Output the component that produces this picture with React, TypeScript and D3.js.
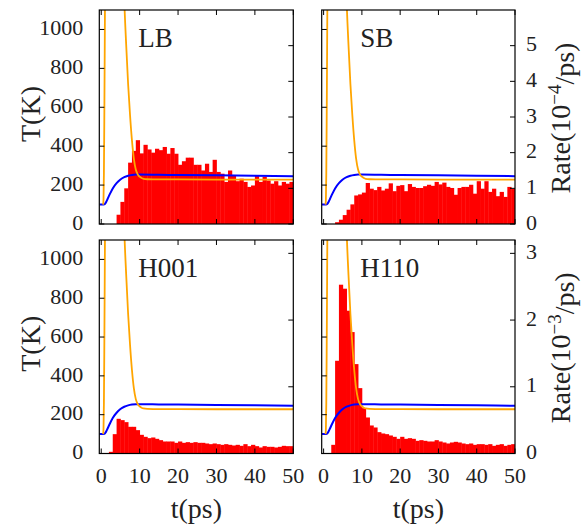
import React from 'react';
import * as d3 from 'd3';

// ---------- data ----------
const binStart = [0,1,2,3,4,5,6,7,8,9,10,11,12,13,14,15,16,17,18,19,20,21,22,23,24,25,26,27,28,29,30,31,32,33,34,35,36,37,38,39,40,41,42,43,44,45,46,47,48,49];
const binWidth = 1;

// rates in 1e-4/ps (top row) and 1e-3/ps (bottom row)
const lbRate = [0,0,0,0,0.26,0.62,1.0,1.72,2.05,2.35,1.98,2.22,2.09,2.0,2.11,2.07,2.16,1.97,2.13,1.97,1.66,1.76,1.86,1.86,1.66,1.66,1.5,1.69,1.46,1.8,1.46,1.41,1.18,1.5,1.36,1.2,1.27,1.18,1.04,1.08,1.36,1.18,1.32,1.22,1.13,1.2,1.08,1.18,1.13,1.18];
const sbRate = [0,0,0,0.05,0.12,0.25,0.4,0.55,0.8,0.83,0.88,1.15,0.99,0.95,1.04,0.94,0.99,1.14,0.92,1.07,1.09,0.92,1.12,1.04,1.01,1.01,1.06,1.1,1.07,1.18,1.11,1.16,1.04,1.01,0.82,1.01,1.04,1.04,1.1,0.85,1.2,0.99,1.2,0.9,0.99,0.78,0.9,0.76,1.04,0.99];
const h001Rate = [0,0,0.025,0.29,0.52,0.5,0.47,0.4,0.4,0.35,0.28,0.25,0.23,0.24,0.22,0.2,0.18,0.18,0.18,0.16,0.18,0.16,0.17,0.16,0.17,0.16,0.16,0.15,0.14,0.15,0.14,0.13,0.14,0.13,0.12,0.13,0.115,0.14,0.11,0.13,0.11,0.09,0.11,0.1,0.1,0.09,0.1,0.115,0.11,0.11];
const h110Rate = [0,0,0.13,1.39,2.53,2.47,2.14,1.82,1.34,0.98,0.68,0.54,0.42,0.39,0.32,0.3,0.29,0.27,0.25,0.22,0.25,0.22,0.23,0.22,0.19,0.2,0.19,0.18,0.18,0.2,0.18,0.165,0.15,0.165,0.175,0.165,0.15,0.14,0.15,0.13,0.14,0.14,0.13,0.14,0.115,0.13,0.14,0.115,0.13,0.14];

// temperature curves (K)
const orangeTime = [0.5, 0.6, 0.7, 0.8, 0.9, 1.0, 1.3, 2, 3, 4, 5, 5.5, 6.0, 6.5, 7.0, 7.5, 8.0, 8.5, 9.0, 9.5, 10, 10.5, 11, 12, 15, 20, 30, 40, 50];
const orangeTemp = [100, 130, 260, 520, 850, 1200, 1800, 2600, 3000, 2800, 2000, 1500, 1150, 920, 720, 560, 430, 335, 280, 255, 243, 236, 232, 230, 229, 229, 228, 228, 228];
const blueTime = [-0.5, 0.5, 0.8, 1.2, 1.6, 2.2, 3, 4, 5, 6, 7, 8, 9, 10, 15, 20, 30, 40, 50];
const blueTemp = [100, 100, 101, 110, 126, 152, 183, 210, 229, 241, 248, 252, 254, 254, 253, 252, 250, 248, 246];

const panelNames = ['LB', 'SB', 'H001', 'H110'];
const panelRates = [lbRate, sbRate, h001Rate, h110Rate];

const timeTicks = [0, 10, 20, 30, 40, 50];
const tempTicks = [0, 200, 400, 600, 800, 1000];
const rateTicksTop = [0, 1, 2, 3, 4, 5];
const rateTicksBottom = [0, 1, 2, 3];
const rateExpTop = '−4';
const rateExpBottom = '−3';

// ---------- layout ----------
const W = 585, H = 524;
const cols = [{ x0: 99.3, x1: 293.3 }, { x0: 321.7, x1: 515 }];
const rows = [{ y0: 10, y1: 224 }, { y0: 240, y1: 453.5 }];
const FONT = 'Liberation Serif';
const TXT = '#222';
const TICK = 5;

function Panel({ idx }: { idx: number }) {
  const r = Math.floor(idx / 2), c = idx % 2;
  const { x0, x1 } = cols[c];
  const { y0, y1 } = rows[r];
  const x = d3.scaleLinear().domain([-0.5, 50]).range([x0, x1]);
  const yT = d3.scaleLinear().domain([0, 1100]).range([y1, y0]);
  const yR = d3.scaleLinear().domain(r === 0 ? [0, 6] : [0, 3.2]).range([y1, y0]);
  const rateTicks = r === 0 ? rateTicksTop : rateTicksBottom;
  const rates = panelRates[idx];
  const clipId = `clip${idx}`;

  const lineB = d3.line<number>().x((_, i) => x(blueTime[i])).y((d) => yT(d)).curve(d3.curveMonotoneX);
  const lineO = d3.line<number>().x((_, i) => x(orangeTime[i])).y((d) => yT(d)).curve(d3.curveMonotoneX);

  return (
    <g>
      <defs>
        <clipPath id={clipId}>
          <rect x={x0} y={y0} width={x1 - x0} height={y1 - y0} />
        </clipPath>
      </defs>
      <g clipPath={`url(#${clipId})`}>
        {rates.map((v, i) => (
          v > 0 ? (
            <rect key={i} x={x(binStart[i])} y={yR(v)} width={x(binStart[i] + binWidth) - x(binStart[i]) + 0.4}
              height={yR(0) - yR(v)} fill="#ff0000" />
          ) : null
        ))}
        <path d={lineB(blueTemp) || ''} fill="none" stroke="#0000ff" strokeWidth={2} />
        <path d={lineO(orangeTemp) || ''} fill="none" stroke="#ffa500" strokeWidth={1.8} />
      </g>
      {tempTicks.map((t) => (
        <line key={'l' + t} x1={x0} x2={x0 + TICK} y1={yT(t)} y2={yT(t)} stroke="#000" strokeWidth={1} />
      ))}
      {rateTicks.map((t) => (
        <line key={'r' + t} x1={x1} x2={x1 - TICK} y1={yR(t)} y2={yR(t)} stroke="#000" strokeWidth={1} />
      ))}
      {timeTicks.map((t) => (
        <g key={'t' + t}>
          <line x1={x(t)} x2={x(t)} y1={y0} y2={y0 + TICK} stroke="#000" strokeWidth={1} />
          <line x1={x(t)} x2={x(t)} y1={y1} y2={y1 - TICK} stroke="#000" strokeWidth={1} />
        </g>
      ))}
      <rect x={x0} y={y0} width={x1 - x0} height={y1 - y0} fill="none" stroke="#000" strokeWidth={1.2} />
      <g style={{ fontFamily: FONT }} fill={TXT}>
        {c === 0 && tempTicks.map((t) => (
          <text key={'lt' + t} x={x0 - 16} y={yT(t) - 2} dy="0.35em" textAnchor="end" fontSize={22}>{t}</text>
        ))}
        {c === 1 && rateTicks.map((t) => (
          <text key={'rt' + t} x={x1 + 11} y={yR(t) - 2} dy="0.35em" textAnchor="start" fontSize={22}>{t}</text>
        ))}
        {r === 1 && timeTicks.map((t) => (
          <text key={'xt' + t} x={x(t)} y={y1 + 22} dy="0.35em" textAnchor="middle" fontSize={22}>{t}</text>
        ))}
        <text x={x0 + (c === 0 ? 39 : 38.5)} y={y0 + 36.7} fontSize={27}>{panelNames[idx]}</text>
        {c === 0 && (
          <text transform={`translate(30,${(y0 + y1) / 2 - 3}) rotate(-90)`} textAnchor="middle" dy="0.35em" fontSize={28}>T(K)</text>
        )}
        {c === 1 && (
          <text transform={`translate(560,${(y0 + y1) / 2 + 1}) rotate(-90)`} textAnchor="middle" dy="0.35em" fontSize={28}>
            Rate(10<tspan dy="-0.45em" fontSize={19}>{r === 0 ? rateExpTop : rateExpBottom}</tspan><tspan dy="0.45em">/ps)</tspan>
          </text>
        )}
        {r === 1 && (
          <text x={(x0 + x1) / 2} y={y1 + 55} dy="0.35em" textAnchor="middle" fontSize={28}>t(ps)</text>
        )}
      </g>
    </g>
  );
}

export default function App() {
  return (
    <svg width={W} height={H} viewBox={`0 0 ${W} ${H}`} style={{ position: 'absolute', left: 0, top: 0, background: '#fff' }}>
      <rect x={0} y={0} width={W} height={H} fill="#fff" />
      {[0, 1, 2, 3].map((i) => <Panel key={i} idx={i} />)}
    </svg>
  );
}
